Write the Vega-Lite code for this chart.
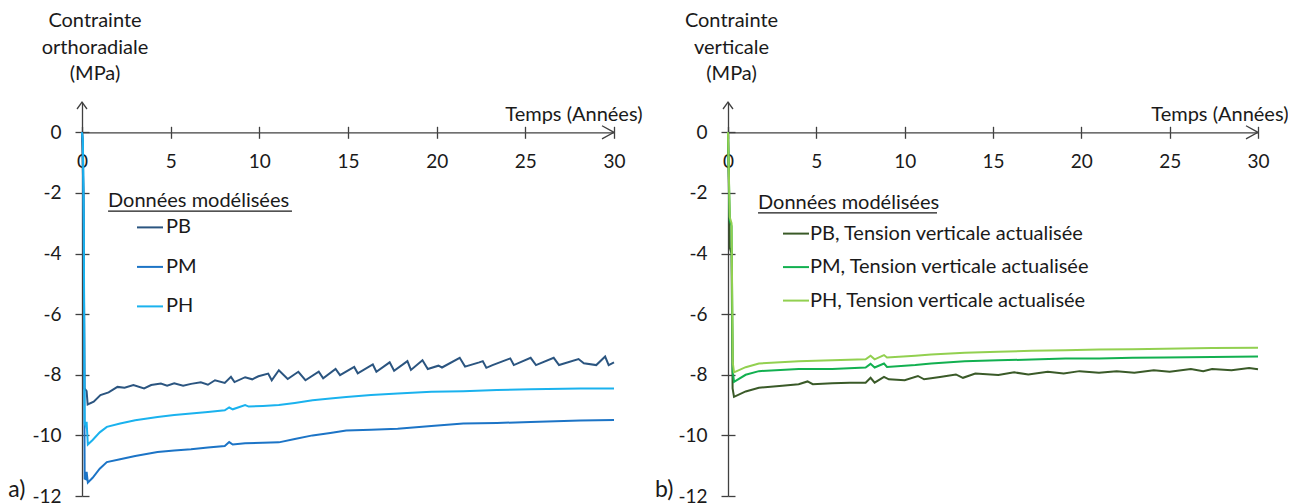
{
  "$schema": "https://vega.github.io/schema/vega-lite/v6.json",
  "background": "white",
  "padding": {"left": 8, "top": 10, "right": 0, "bottom": 0},
  "spacing": 13,
  "config": {
    "font": "Lato",
    "view": {"stroke": null},
    "axis": {"grid": false, "domainColor": "#404040", "tickColor": "#404040", "labelColor": "#1a1a1a", "titleColor": "#1a1a1a", "labelFont": "Lato", "titleFont": "Lato", "labelFontSize": 19, "titleFontSize": 20, "titleFontWeight": "normal", "domainWidth": 1.3, "tickWidth": 1.3},
    "legend": {"titleFont": "Lato", "titleFontSize": 20, "titleFontWeight": "normal", "labelFont": "Lato", "labelFontSize": 20, "titleColor": "#1a1a1a", "labelColor": "#1a1a1a", "symbolSize": 676, "symbolStrokeWidth": 2, "symbolType": "stroke", "padding": 0, "titleLimit": 400, "labelLimit": 400}
  },
  "resolve": {"scale": {"color": "independent"}, "legend": {"color": "independent"}},
  "hconcat": [
    {
      "width": 532,
      "height": 394,
      "resolve": {"axis": {"x": "independent", "y": "independent"}},
      "layer": [
        {
          "data": {"values": [
            {"s":"PB","t":0,"v":0},{"s":"PB","t":0.08,"v":-2},{"s":"PB","t":0.14,"v":-8.45},{"s":"PB","t":0.26,"v":-8.54},{"s":"PB","t":0.32,"v":-8.98},{"s":"PB","t":0.66,"v":-8.89},{"s":"PB","t":1.04,"v":-8.67},{"s":"PB","t":1.5,"v":-8.58},{"s":"PB","t":2.0,"v":-8.4},{"s":"PB","t":2.4,"v":-8.43},{"s":"PB","t":2.9,"v":-8.34},{"s":"PB","t":3.5,"v":-8.45},{"s":"PB","t":3.9,"v":-8.34},{"s":"PB","t":4.45,"v":-8.29},{"s":"PB","t":4.8,"v":-8.36},{"s":"PB","t":5.2,"v":-8.28},{"s":"PB","t":5.7,"v":-8.36},{"s":"PB","t":6.15,"v":-8.3},{"s":"PB","t":6.7,"v":-8.25},{"s":"PB","t":7.1,"v":-8.33},{"s":"PB","t":7.5,"v":-8.18},{"s":"PB","t":8.05,"v":-8.27},{"s":"PB","t":8.4,"v":-8.07},{"s":"PB","t":8.6,"v":-8.24},{"s":"PB","t":9.2,"v":-8.08},{"s":"PB","t":9.6,"v":-8.15},{"s":"PB","t":9.95,"v":-8.05},{"s":"PB","t":10.5,"v":-7.96},{"s":"PB","t":10.7,"v":-8.18},{"s":"PB","t":11.1,"v":-7.85},{"s":"PB","t":11.6,"v":-8.14},{"s":"PB","t":12.2,"v":-7.9},{"s":"PB","t":12.6,"v":-8.18},{"s":"PB","t":13.35,"v":-7.9},{"s":"PB","t":13.6,"v":-8.12},{"s":"PB","t":14.3,"v":-7.81},{"s":"PB","t":14.55,"v":-8.01},{"s":"PB","t":15.35,"v":-7.74},{"s":"PB","t":15.55,"v":-7.95},{"s":"PB","t":16.4,"v":-7.66},{"s":"PB","t":16.6,"v":-7.9},{"s":"PB","t":17.35,"v":-7.59},{"s":"PB","t":17.6,"v":-7.87},{"s":"PB","t":18.35,"v":-7.55},{"s":"PB","t":18.55,"v":-7.84},{"s":"PB","t":19.2,"v":-7.52},{"s":"PB","t":19.5,"v":-7.81},{"s":"PB","t":20.1,"v":-7.7},{"s":"PB","t":20.3,"v":-7.76},{"s":"PB","t":21.3,"v":-7.44},{"s":"PB","t":21.6,"v":-7.73},{"s":"PB","t":22.4,"v":-7.59},{"s":"PB","t":22.6,"v":-7.55},{"s":"PB","t":22.8,"v":-7.77},{"s":"PB","t":23.15,"v":-7.68},{"s":"PB","t":24.15,"v":-7.46},{"s":"PB","t":24.35,"v":-7.68},{"s":"PB","t":25.3,"v":-7.44},{"s":"PB","t":25.6,"v":-7.68},{"s":"PB","t":26.6,"v":-7.44},{"s":"PB","t":26.9,"v":-7.68},{"s":"PB","t":28.0,"v":-7.48},{"s":"PB","t":28.3,"v":-7.62},{"s":"PB","t":29.0,"v":-7.68},{"s":"PB","t":29.5,"v":-7.4},{"s":"PB","t":29.7,"v":-7.68},{"s":"PB","t":30.0,"v":-7.59},
            {"s":"PM","t":0,"v":0},{"s":"PM","t":0.05,"v":-0.3},{"s":"PM","t":0.1,"v":-3},{"s":"PM","t":0.15,"v":-11.43},{"s":"PM","t":0.22,"v":-11.45},{"s":"PM","t":0.26,"v":-11.2},{"s":"PM","t":0.33,"v":-11.56},{"s":"PM","t":0.6,"v":-11.4},{"s":"PM","t":1.0,"v":-11.1},{"s":"PM","t":1.4,"v":-10.88},{"s":"PM","t":2.15,"v":-10.79},{"s":"PM","t":3.0,"v":-10.68},{"s":"PM","t":4.26,"v":-10.55},{"s":"PM","t":5.2,"v":-10.5},{"s":"PM","t":6.15,"v":-10.46},{"s":"PM","t":7.1,"v":-10.4},{"s":"PM","t":8.05,"v":-10.35},{"s":"PM","t":8.3,"v":-10.22},{"s":"PM","t":8.5,"v":-10.3},{"s":"PM","t":9.2,"v":-10.26},{"s":"PM","t":10.2,"v":-10.24},{"s":"PM","t":11.1,"v":-10.23},{"s":"PM","t":12.0,"v":-10.12},{"s":"PM","t":13.0,"v":-10.0},{"s":"PM","t":14.0,"v":-9.92},{"s":"PM","t":14.9,"v":-9.84},{"s":"PM","t":16.3,"v":-9.81},{"s":"PM","t":17.8,"v":-9.78},{"s":"PM","t":19.7,"v":-9.69},{"s":"PM","t":21.5,"v":-9.61},{"s":"PM","t":23.4,"v":-9.59},{"s":"PM","t":25.3,"v":-9.56},{"s":"PM","t":28.1,"v":-9.51},{"s":"PM","t":30.0,"v":-9.49},
            {"s":"PH","t":0,"v":0},{"s":"PH","t":0.05,"v":-0.3},{"s":"PH","t":0.1,"v":-3},{"s":"PH","t":0.15,"v":-9.6},{"s":"PH","t":0.22,"v":-9.7},{"s":"PH","t":0.26,"v":-9.55},{"s":"PH","t":0.33,"v":-10.3},{"s":"PH","t":0.6,"v":-10.15},{"s":"PH","t":1.0,"v":-9.9},{"s":"PH","t":1.4,"v":-9.72},{"s":"PH","t":2.15,"v":-9.61},{"s":"PH","t":3.0,"v":-9.5},{"s":"PH","t":4.26,"v":-9.39},{"s":"PH","t":5.2,"v":-9.33},{"s":"PH","t":6.15,"v":-9.28},{"s":"PH","t":7.1,"v":-9.23},{"s":"PH","t":8.05,"v":-9.17},{"s":"PH","t":8.3,"v":-9.08},{"s":"PH","t":8.5,"v":-9.14},{"s":"PH","t":9.2,"v":-9.0},{"s":"PH","t":9.4,"v":-9.05},{"s":"PH","t":10.2,"v":-9.03},{"s":"PH","t":11.1,"v":-9.0},{"s":"PH","t":12.0,"v":-8.93},{"s":"PH","t":13.0,"v":-8.84},{"s":"PH","t":14.0,"v":-8.78},{"s":"PH","t":14.9,"v":-8.73},{"s":"PH","t":16.3,"v":-8.67},{"s":"PH","t":17.8,"v":-8.62},{"s":"PH","t":19.7,"v":-8.56},{"s":"PH","t":21.5,"v":-8.54},{"s":"PH","t":23.4,"v":-8.5},{"s":"PH","t":25.3,"v":-8.48},{"s":"PH","t":28.1,"v":-8.45},{"s":"PH","t":30.0,"v":-8.45}
          ]},
          "mark": {"type": "line", "strokeWidth": 2},
          "encoding": {
            "x": {"field": "t", "type": "quantitative", "scale": {"domain": [0, 30], "nice": false, "zero": false},
              "axis": {"orient": "bottom", "offset": -363.7, "values": [0,5,10,15,20,25,30], "tickSize": 6, "labelPadding": 29, "labelBaseline": "alphabetic", "labelFlush": false, "title": "Temps (Années)", "titleX": 560, "titleY": -12, "titleAlign": "right", "titleBaseline": "alphabetic", "titleAnchor": "end"}},
            "y": {"field": "v", "type": "quantitative", "scale": {"domain": [-12, 1], "nice": false, "zero": false},
              "axis": {"orient": "left", "values": [0,-2,-4,-6,-8,-10,-12], "tickSize": 7, "labelPadding": 14, "labelExpr": "datum.value + ''", "title": ["Contrainte", "orthoradiale", "(MPa)"], "titleAngle": 0, "titleX": 12.5, "titleY": -75.4, "titleAlign": "center", "titleBaseline": "alphabetic", "titleLineHeight": 26.5}},
            "color": {"field": "s", "type": "nominal", "sort": ["PB","PM","PH"], "scale": {"domain": ["PB","PM","PH"], "range": ["#2B5580","#1C74C6","#1AB2EE"]},
              "legend": {"orient": "none", "legendX": 26, "legendY": 89.4, "title": "Données modélisées", "symbolOffset": 28, "labelOffset": 2, "rowPadding": 15.5, "titlePadding": 2}}
          }
        },
        {
          "data": {"values": [{}]},
          "mark": {"type": "point", "shape": "M-0.71,1L0,0L0.71,1", "size": 196, "filled": false, "stroke": "#404040", "strokeWidth": 1.3, "opacity": 1},
          "encoding": {
            "x": {"datum": 0, "type": "quantitative", "scale": {"domain": [0, 30], "nice": false, "zero": false},
              "axis": {"orient": "top", "offset": -30.3, "values": [0,5,10,15,20,25,30], "tickSize": 6, "labels": false, "domain": false, "title": null}},
            "y": {"datum": 1, "type": "quantitative", "scale": {"domain": [-12, 1], "nice": false, "zero": false},
              "axis": {"orient": "right", "offset": -532, "values": [0,-2,-4,-6,-8,-10,-12], "tickSize": 7, "labels": false, "domain": false, "title": null}}
          }
        },
        {
          "data": {"values": [{}]},
          "mark": {"type": "point", "shape": "M-1,-0.55L0,0L-1,0.55", "size": 576, "filled": false, "stroke": "#404040", "strokeWidth": 1.3, "opacity": 1},
          "encoding": {
            "x": {"datum": 30, "type": "quantitative", "axis": null},
            "y": {"datum": 0, "type": "quantitative", "axis": null}
          }
        },
        {
          "data": {"values": [{}]},
          "mark": {"type": "rule", "stroke": "#1a1a1a", "strokeWidth": 1.2},
          "encoding": {
            "x": {"datum": 1.47, "type": "quantitative", "axis": null},
            "x2": {"datum": 11.84},
            "y": {"datum": -2.6, "type": "quantitative", "axis": null}
          }
        },
        {
          "data": {"values": [{}]},
          "mark": {"type": "text", "text": "a)", "fontSize": 23, "align": "left", "baseline": "alphabetic", "dy": 1, "color": "#1a1a1a"},
          "encoding": {
            "x": {"datum": -4.16, "type": "quantitative", "axis": null},
            "y": {"datum": -12, "type": "quantitative", "axis": null}
          }
        }
      ]
    },
    {
      "width": 530,
      "height": 394,
      "resolve": {"axis": {"x": "independent", "y": "independent"}},
      "layer": [
        {
          "data": {"values": [
            {"s":"PB, Tension verticale actualisée","t":0,"v":0},{"s":"PB, Tension verticale actualisée","t":0.05,"v":-1.8},{"s":"PB, Tension verticale actualisée","t":0.1,"v":-3.8},{"s":"PB, Tension verticale actualisée","t":0.2,"v":-4.0},{"s":"PB, Tension verticale actualisée","t":0.26,"v":-8.45},{"s":"PB, Tension verticale actualisée","t":0.34,"v":-8.73},{"s":"PB, Tension verticale actualisée","t":1.0,"v":-8.55},{"s":"PB, Tension verticale actualisée","t":1.75,"v":-8.43},{"s":"PB, Tension verticale actualisée","t":3.07,"v":-8.36},{"s":"PB, Tension verticale actualisée","t":4.0,"v":-8.31},{"s":"PB, Tension verticale actualisée","t":4.5,"v":-8.22},{"s":"PB, Tension verticale actualisée","t":4.8,"v":-8.31},{"s":"PB, Tension verticale actualisée","t":5.9,"v":-8.28},{"s":"PB, Tension verticale actualisée","t":6.9,"v":-8.26},{"s":"PB, Tension verticale actualisée","t":7.79,"v":-8.26},{"s":"PB, Tension verticale actualisée","t":8.07,"v":-8.1},{"s":"PB, Tension verticale actualisée","t":8.3,"v":-8.26},{"s":"PB, Tension verticale actualisée","t":8.83,"v":-8.07},{"s":"PB, Tension verticale actualisée","t":9.1,"v":-8.15},{"s":"PB, Tension verticale actualisée","t":10.0,"v":-8.18},{"s":"PB, Tension verticale actualisée","t":10.75,"v":-8.04},{"s":"PB, Tension verticale actualisée","t":11.1,"v":-8.15},{"s":"PB, Tension verticale actualisée","t":12.0,"v":-8.07},{"s":"PB, Tension verticale actualisée","t":12.9,"v":-7.99},{"s":"PB, Tension verticale actualisée","t":13.3,"v":-8.1},{"s":"PB, Tension verticale actualisée","t":14.0,"v":-7.96},{"s":"PB, Tension verticale actualisée","t":15.3,"v":-8.01},{"s":"PB, Tension verticale actualisée","t":16.2,"v":-7.92},{"s":"PB, Tension verticale actualisée","t":17.0,"v":-7.99},{"s":"PB, Tension verticale actualisée","t":18.1,"v":-7.9},{"s":"PB, Tension verticale actualisée","t":19.0,"v":-7.96},{"s":"PB, Tension verticale actualisée","t":19.9,"v":-7.88},{"s":"PB, Tension verticale actualisée","t":21.0,"v":-7.93},{"s":"PB, Tension verticale actualisée","t":22.0,"v":-7.88},{"s":"PB, Tension verticale actualisée","t":23.0,"v":-7.93},{"s":"PB, Tension verticale actualisée","t":24.1,"v":-7.85},{"s":"PB, Tension verticale actualisée","t":25.0,"v":-7.9},{"s":"PB, Tension verticale actualisée","t":26.2,"v":-7.81},{"s":"PB, Tension verticale actualisée","t":26.9,"v":-7.88},{"s":"PB, Tension verticale actualisée","t":27.4,"v":-7.81},{"s":"PB, Tension verticale actualisée","t":28.5,"v":-7.85},{"s":"PB, Tension verticale actualisée","t":29.5,"v":-7.78},{"s":"PB, Tension verticale actualisée","t":30.0,"v":-7.82},
            {"s":"PM, Tension verticale actualisée","t":0,"v":0},{"s":"PM, Tension verticale actualisée","t":0.05,"v":-1.5},{"s":"PM, Tension verticale actualisée","t":0.1,"v":-2.9},{"s":"PM, Tension verticale actualisée","t":0.2,"v":-3.1},{"s":"PM, Tension verticale actualisée","t":0.27,"v":-7.9},{"s":"PM, Tension verticale actualisée","t":0.34,"v":-8.23},{"s":"PM, Tension verticale actualisée","t":1.0,"v":-8.0},{"s":"PM, Tension verticale actualisée","t":1.75,"v":-7.88},{"s":"PM, Tension verticale actualisée","t":4.0,"v":-7.81},{"s":"PM, Tension verticale actualisée","t":5.9,"v":-7.81},{"s":"PM, Tension verticale actualisée","t":7.79,"v":-7.76},{"s":"PM, Tension verticale actualisée","t":8.07,"v":-7.64},{"s":"PM, Tension verticale actualisée","t":8.3,"v":-7.76},{"s":"PM, Tension verticale actualisée","t":8.83,"v":-7.63},{"s":"PM, Tension verticale actualisée","t":9.0,"v":-7.74},{"s":"PM, Tension verticale actualisée","t":10.6,"v":-7.68},{"s":"PM, Tension verticale actualisée","t":11.5,"v":-7.63},{"s":"PM, Tension verticale actualisée","t":13.4,"v":-7.55},{"s":"PM, Tension verticale actualisée","t":15.3,"v":-7.52},{"s":"PM, Tension verticale actualisée","t":17.2,"v":-7.5},{"s":"PM, Tension verticale actualisée","t":19.1,"v":-7.46},{"s":"PM, Tension verticale actualisée","t":21.0,"v":-7.46},{"s":"PM, Tension verticale actualisée","t":22.9,"v":-7.44},{"s":"PM, Tension verticale actualisée","t":24.7,"v":-7.43},{"s":"PM, Tension verticale actualisée","t":27.4,"v":-7.41},{"s":"PM, Tension verticale actualisée","t":30.0,"v":-7.4},
            {"s":"PH, Tension verticale actualisée","t":0,"v":0},{"s":"PH, Tension verticale actualisée","t":0.05,"v":-1.4},{"s":"PH, Tension verticale actualisée","t":0.1,"v":-2.8},{"s":"PH, Tension verticale actualisée","t":0.2,"v":-3.0},{"s":"PH, Tension verticale actualisée","t":0.27,"v":-7.6},{"s":"PH, Tension verticale actualisée","t":0.34,"v":-7.92},{"s":"PH, Tension verticale actualisée","t":1.0,"v":-7.75},{"s":"PH, Tension verticale actualisée","t":1.75,"v":-7.63},{"s":"PH, Tension verticale actualisée","t":4.0,"v":-7.55},{"s":"PH, Tension verticale actualisée","t":5.9,"v":-7.52},{"s":"PH, Tension verticale actualisée","t":7.79,"v":-7.49},{"s":"PH, Tension verticale actualisée","t":8.07,"v":-7.37},{"s":"PH, Tension verticale actualisée","t":8.3,"v":-7.49},{"s":"PH, Tension verticale actualisée","t":8.83,"v":-7.35},{"s":"PH, Tension verticale actualisée","t":9.0,"v":-7.43},{"s":"PH, Tension verticale actualisée","t":10.6,"v":-7.37},{"s":"PH, Tension verticale actualisée","t":11.5,"v":-7.33},{"s":"PH, Tension verticale actualisée","t":13.4,"v":-7.27},{"s":"PH, Tension verticale actualisée","t":15.3,"v":-7.24},{"s":"PH, Tension verticale actualisée","t":17.2,"v":-7.21},{"s":"PH, Tension verticale actualisée","t":19.1,"v":-7.19},{"s":"PH, Tension verticale actualisée","t":21.0,"v":-7.17},{"s":"PH, Tension verticale actualisée","t":22.9,"v":-7.16},{"s":"PH, Tension verticale actualisée","t":24.7,"v":-7.14},{"s":"PH, Tension verticale actualisée","t":27.4,"v":-7.12},{"s":"PH, Tension verticale actualisée","t":30.0,"v":-7.11}
          ]},
          "mark": {"type": "line", "strokeWidth": 2},
          "encoding": {
            "x": {"field": "t", "type": "quantitative", "scale": {"domain": [0, 30], "nice": false, "zero": false},
              "axis": {"orient": "bottom", "offset": -363.7, "values": [0,5,10,15,20,25,30], "tickSize": 6, "labelPadding": 29, "labelBaseline": "alphabetic", "labelFlush": false, "title": "Temps (Années)", "titleX": 560, "titleY": -12, "titleAlign": "right", "titleBaseline": "alphabetic", "titleAnchor": "end"}},
            "y": {"field": "v", "type": "quantitative", "scale": {"domain": [-12, 1], "nice": false, "zero": false},
              "axis": {"orient": "left", "values": [0,-2,-4,-6,-8,-10,-12], "tickSize": 7, "labelPadding": 14, "labelExpr": "datum.value + ''", "title": ["Contrainte", "verticale", "(MPa)"], "titleAngle": 0, "titleX": 3, "titleY": -75.4, "titleAlign": "center", "titleBaseline": "alphabetic", "titleLineHeight": 26.5}},
            "color": {"field": "s", "type": "nominal", "sort": ["PB, Tension verticale actualisée","PM, Tension verticale actualisée","PH, Tension verticale actualisée"], "scale": {"domain": ["PB, Tension verticale actualisée","PM, Tension verticale actualisée","PH, Tension verticale actualisée"], "range": ["#3A5A28","#12B050","#92D050"]},
              "legend": {"orient": "none", "legendX": 30, "legendY": 91.1, "title": "Données modélisées", "symbolOffset": 24, "labelOffset": 0, "rowPadding": 9.5, "titlePadding": 6.5}}
          }
        },
        {
          "data": {"values": [{}]},
          "mark": {"type": "point", "shape": "M-0.71,1L0,0L0.71,1", "size": 196, "filled": false, "stroke": "#404040", "strokeWidth": 1.3, "opacity": 1},
          "encoding": {
            "x": {"datum": 0, "type": "quantitative", "scale": {"domain": [0, 30], "nice": false, "zero": false},
              "axis": {"orient": "top", "offset": -30.3, "values": [0,5,10,15,20,25,30], "tickSize": 6, "labels": false, "domain": false, "title": null}},
            "y": {"datum": 1, "type": "quantitative", "scale": {"domain": [-12, 1], "nice": false, "zero": false},
              "axis": {"orient": "right", "offset": -530, "values": [0,-2,-4,-6,-8,-10,-12], "tickSize": 7, "labels": false, "domain": false, "title": null}}
          }
        },
        {
          "data": {"values": [{}]},
          "mark": {"type": "point", "shape": "M-1,-0.55L0,0L-1,0.55", "size": 576, "filled": false, "stroke": "#404040", "strokeWidth": 1.3, "opacity": 1},
          "encoding": {
            "x": {"datum": 30, "type": "quantitative", "axis": null},
            "y": {"datum": 0, "type": "quantitative", "axis": null}
          }
        },
        {
          "data": {"values": [{}]},
          "mark": {"type": "rule", "stroke": "#1a1a1a", "strokeWidth": 1.2},
          "encoding": {
            "x": {"datum": 1.7, "type": "quantitative", "axis": null},
            "x2": {"datum": 11.83},
            "y": {"datum": -2.66, "type": "quantitative", "axis": null}
          }
        },
        {
          "data": {"values": [{}]},
          "mark": {"type": "text", "text": "b)", "fontSize": 23, "align": "left", "baseline": "alphabetic", "dy": 1, "color": "#1a1a1a"},
          "encoding": {
            "x": {"datum": -4.13, "type": "quantitative", "axis": null},
            "y": {"datum": -12, "type": "quantitative", "axis": null}
          }
        }
      ]
    }
  ]
}
